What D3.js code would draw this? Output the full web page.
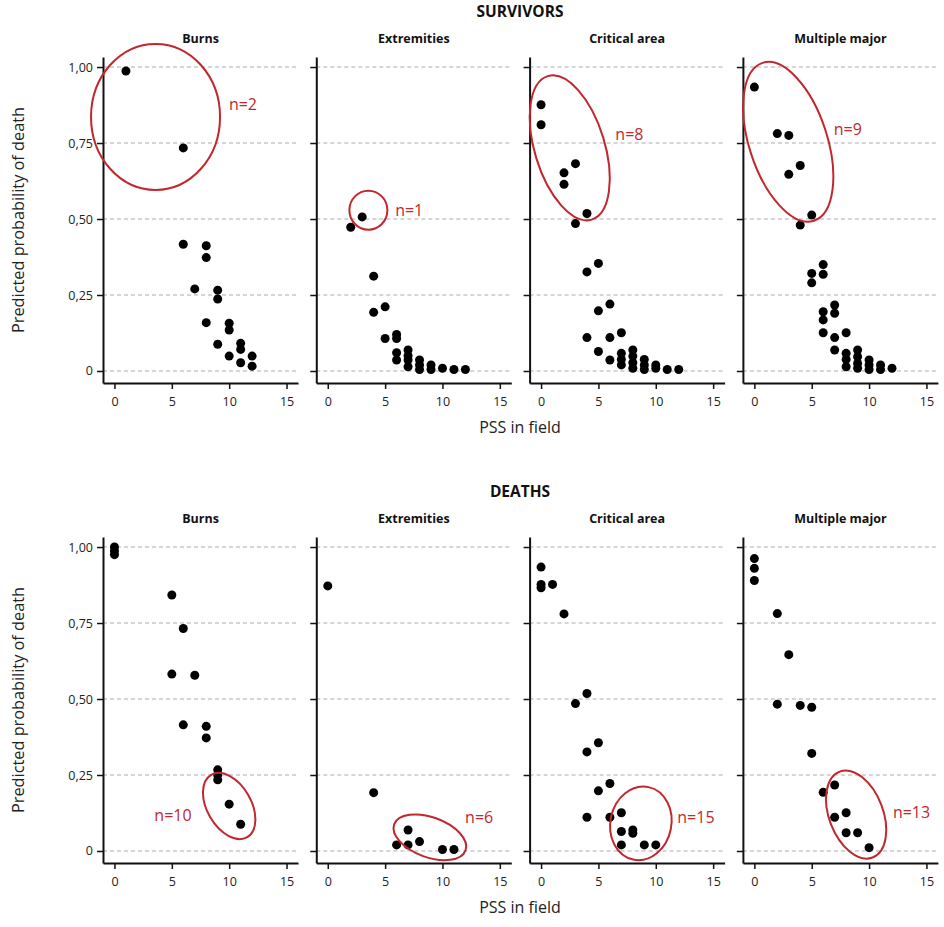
<!DOCTYPE html>
<html>
<head>
<meta charset="utf-8">
<script src="https://cdn.jsdelivr.net/npm/d3@7"></script>
<style>
  body { margin: 0; background: #fff; }
  svg { display: block; font-family: "Open Sans", "Noto Sans", sans-serif; }
</style>
</head>
<body>
<svg id="chart"></svg>
<script>
// categories and groups
const groups = ["SURVIVORS", "DEATHS"];
const categories = ["Burns", "Extremities", "Critical area", "Multiple major"];
const xTicks = [0, 5, 10, 15];
const yTicks = [0, 0.25, 0.5, 0.75, 1];

// [PSS in field, predicted probability of death]
const survivorsBurns = [[1,0.987],[6,0.734],[6,0.417],[8,0.412],[8,0.373],[7,0.27],[9,0.266],[9,0.237],[8,0.159],[10,0.157],[10,0.135],[9,0.088],[11,0.091],[11,0.071],[10,0.049],[11,0.027],[12,0.049],[12,0.016]];
const survivorsExtremities = [[2,0.473],[3,0.507],[4,0.312],[4,0.193],[5,0.211],[5,0.107],[6,0.12],[6,0.107],[6,0.06],[6,0.036],[7,0.069],[7,0.05],[7,0.036],[7,0.014],[8,0.036],[8,0.02],[8,0.005],[9,0.02],[9,0.005],[10,0.009],[11,0.005],[12,0.005]];
const survivorsCritical = [[0,0.876],[0,0.81],[2,0.652],[2,0.614],[3,0.682],[4,0.518],[3,0.485],[4,0.326],[5,0.354],[5,0.198],[6,0.22],[4,0.11],[6,0.11],[7,0.126],[5,0.064],[6,0.036],[7,0.058],[7,0.038],[7,0.02],[8,0.069],[8,0.049],[8,0.027],[8,0.009],[9,0.038],[9,0.02],[9,0.005],[10,0.02],[10,0.009],[11,0.005],[12,0.005]];
const survivorsMultiple = [[0,0.934],[2,0.781],[3,0.775],[3,0.647],[4,0.676],[5,0.513],[4,0.48],[5,0.321],[5,0.29],[6,0.35],[6,0.318],[6,0.195],[6,0.168],[6,0.126],[7,0.217],[7,0.19],[7,0.11],[7,0.069],[8,0.126],[8,0.058],[8,0.038],[8,0.014],[9,0.069],[9,0.047],[9,0.025],[9,0.009],[10,0.036],[10,0.02],[10,0.005],[11,0.02],[11,0.005],[12,0.009]];
const deathsBurns = [[0,1.0],[0,0.987],[0,0.975],[5,0.842],[6,0.732],[5,0.582],[7,0.578],[6,0.415],[8,0.41],[8,0.372],[9,0.267],[9,0.25],[9,0.234],[10,0.154],[11,0.088]];
const deathsExtremities = [[0,0.872],[4,0.192],[6,0.02],[7,0.069],[7,0.02],[8,0.031],[10,0.005],[11,0.005]];
const deathsCritical = [[0,0.934],[0,0.877],[0,0.866],[1,0.877],[2,0.78],[4,0.518],[3,0.485],[4,0.326],[5,0.356],[5,0.198],[6,0.222],[4,0.111],[6,0.111],[7,0.126],[7,0.064],[7,0.02],[8,0.069],[8,0.058],[9,0.02],[10,0.02]];
const deathsMultiple = [[0,0.962],[0,0.93],[0,0.89],[2,0.781],[3,0.646],[2,0.483],[4,0.479],[5,0.473],[5,0.321],[6,0.193],[7,0.217],[7,0.111],[8,0.126],[8,0.06],[9,0.06],[10,0.011]];

const panelData = [
  [survivorsBurns, survivorsExtremities, survivorsCritical, survivorsMultiple],
  [deathsBurns, deathsExtremities, deathsCritical, deathsMultiple]
];

// red ring annotations: centre and label in data units
const ringLabels = [["n=2", "n=1", "n=8", "n=9"], ["n=10", "n=6", "n=15", "n=13"]];
const ringCenters = [[[3.58,0.836],[3.54,0.529],[2.5,0.734],[2.95,0.754]], [[10.0,0.148],[8.9,0.045],[8.7,0.091],[8.87,0.12]]];
const labelCenters = [[[11.2,0.877],[7.1,0.53],[7.7,0.78],[8.15,0.797]], [[5.1,0.118],[13.2,0.113],[13.5,0.113],[13.7,0.129]]];

// ring shape (px radii, rotation in degrees)
const ringShape = [
  [{rx:64.5, ry:73, a:0}, {rx:19, ry:19.5, a:0}, {rx:35, ry:75, a:-17}, {rx:39, ry:83, a:-18}],
  [{rx:22, ry:36, a:-30}, {rx:38, ry:20, a:20}, {rx:30.5, ry:37, a:12}, {rx:27, ry:46, a:-21}]
];

const width = 944, height = 927;
const red = "#c1272d";
const left0 = 103, step = 213.3, pw = 195;
const rowTop = [57, 537], ph = 326;
const midX = 520;

const svg = d3.select("#chart")
  .attr("width", width)
  .attr("height", height)
  .attr("viewBox", [0, 0, width, height]);

const x = d3.scaleLinear().domain([-1, 16]).range([0, pw]);
const y = d3.scaleLinear().domain([-0.0395, 1.033]).range([ph, 0]);

const fmt = d => d === 0 ? "0" : d3.format(".2f")(d).replace(".", ",");

groups.forEach((grp, r) => {
  const top = rowTop[r];

  svg.append("text")
    .attr("x", midX).attr("y", top - 40)
    .attr("text-anchor", "middle")
    .attr("font-size", 15.5).attr("font-weight", "bold")
    .attr("fill", "#111")
    .text(grp);

  svg.append("text")
    .attr("transform", `translate(18,${top + 163}) rotate(-90)`)
    .attr("text-anchor", "middle")
    .attr("dominant-baseline", "central")
    .attr("font-size", 16.3)
    .attr("fill", "#222")
    .text("Predicted probability of death");

  svg.append("text")
    .attr("x", midX).attr("y", top + 376)
    .attr("text-anchor", "middle")
    .attr("font-size", 16)
    .attr("fill", "#222")
    .text("PSS in field");

  categories.forEach((cat, c) => {
    const g = svg.append("g")
      .attr("transform", `translate(${left0 + c * step},${top})`);

    g.append("text")
      .attr("x", pw / 2).attr("y", -14)
      .attr("text-anchor", "middle")
      .attr("font-size", 12.5).attr("font-weight", "bold")
      .attr("fill", "#111")
      .text(cat);

    // dashed grid
    g.append("g")
      .selectAll("line")
      .data(yTicks)
      .join("line")
      .attr("x1", 0).attr("x2", pw)
      .attr("y1", d => y(d)).attr("y2", d => y(d))
      .attr("stroke", "#c8c8c8")
      .attr("stroke-width", 1.5)
      .attr("stroke-dasharray", "4,3");

    const yAxis = g.append("g")
      .call(d3.axisLeft(y).tickValues(yTicks).tickSize(6).tickSizeOuter(0).tickPadding(4)
        .tickFormat(c === 0 ? fmt : () => ""));
    const xAxis = g.append("g")
      .attr("transform", `translate(0,${ph})`)
      .call(d3.axisBottom(x).tickValues(xTicks).tickSize(6).tickSizeOuter(0).tickPadding(8));

    [yAxis, xAxis].forEach(ax => {
      ax.select(".domain").attr("stroke", "#111").attr("stroke-width", 2);
      ax.selectAll(".tick line").attr("stroke", "#111").attr("stroke-width", 1.5);
      ax.selectAll(".tick text").attr("font-size", 12.5).attr("fill", "#222")
        .attr("font-family", "'Open Sans', sans-serif");
    });

    g.append("g")
      .selectAll("circle")
      .data(panelData[r][c])
      .join("circle")
      .attr("cx", d => x(d[0]))
      .attr("cy", d => y(d[1]))
      .attr("r", 4.5)
      .attr("fill", "#000");

    const rc = ringCenters[r][c], sh = ringShape[r][c], lc = labelCenters[r][c];
    g.append("ellipse")
      .attr("transform", `translate(${x(rc[0])},${y(rc[1])}) rotate(${sh.a})`)
      .attr("rx", sh.rx).attr("ry", sh.ry)
      .attr("fill", "none")
      .attr("stroke", red)
      .attr("stroke-width", 2);

    g.append("text")
      .attr("x", x(lc[0])).attr("y", y(lc[1]))
      .attr("text-anchor", "middle")
      .attr("dominant-baseline", "central")
      .attr("font-size", 16)
      .attr("fill", red)
      .text(ringLabels[r][c]);
  });
});
</script>
</body>
</html>
